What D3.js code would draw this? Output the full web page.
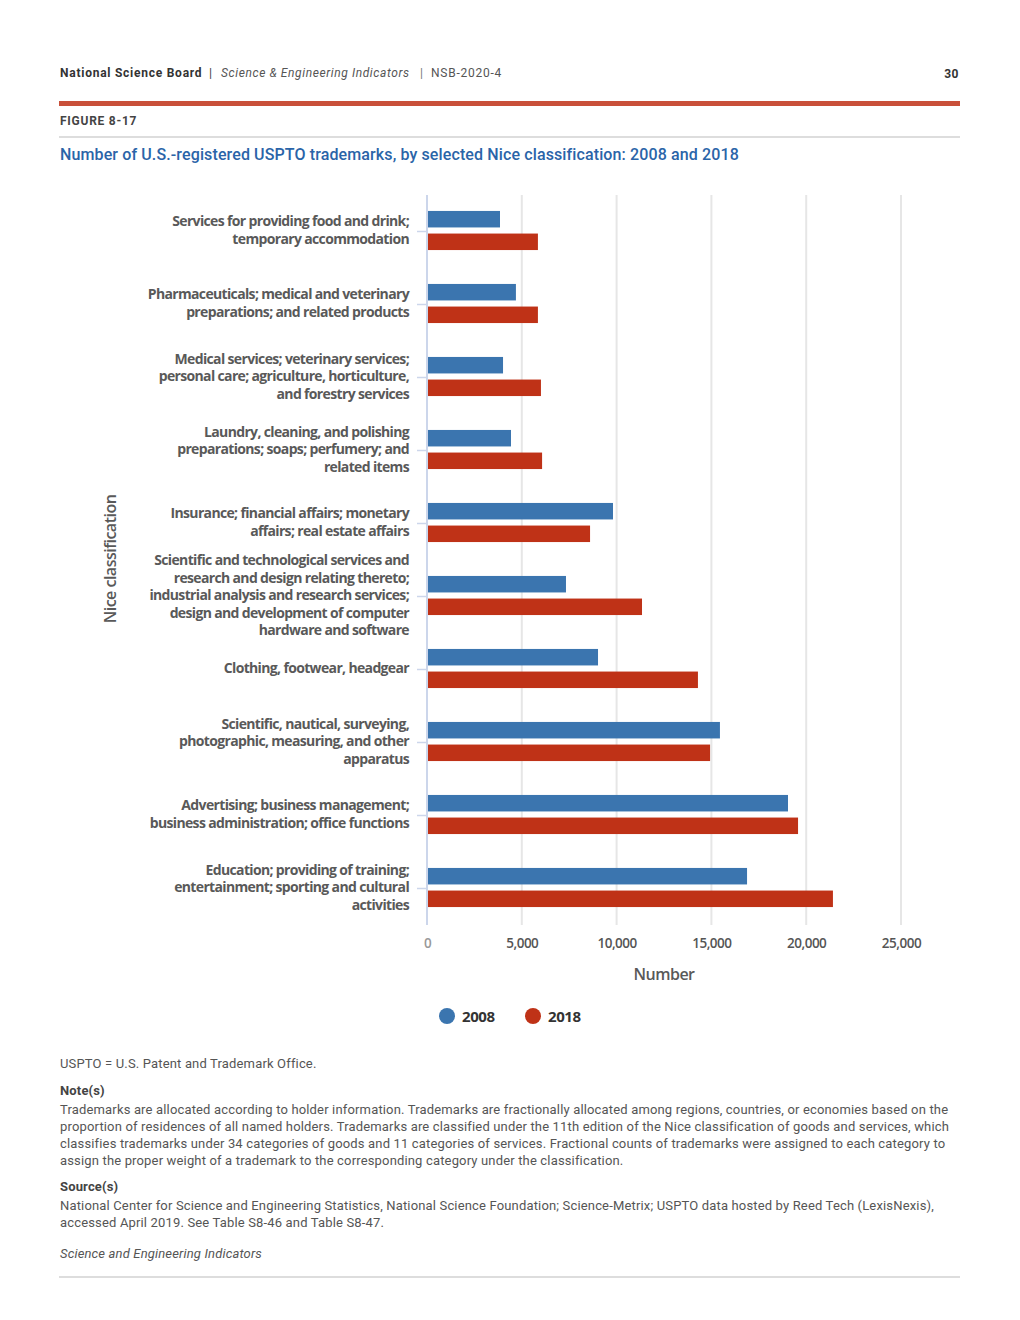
<!DOCTYPE html>
<html>
<head>
<meta charset="utf-8">
<script src="https://cdn.jsdelivr.net/npm/d3@7"></script>
<style>
  body { margin: 0; background: #fff; }
  svg { display: block; }
  .hdr { font-family: Roboto, sans-serif; }
</style>
</head>
<body>
<div id="graph"></div>
<script>
// Categories (top to bottom) and values
var categories = [
  ["Services for providing food and drink;", "temporary accommodation"],
  ["Pharmaceuticals; medical and veterinary", "preparations; and related products"],
  ["Medical services; veterinary services;", "personal care; agriculture, horticulture,", "and forestry services"],
  ["Laundry, cleaning, and polishing", "preparations; soaps; perfumery; and", "related items"],
  ["Insurance; financial affairs; monetary", "affairs; real estate affairs"],
  ["Scientific and technological services and", "research and design relating thereto;", "industrial analysis and research services;", "design and development of computer", "hardware and software"],
  ["Clothing, footwear, headgear"],
  ["Scientific, nautical, surveying,", "photographic, measuring, and other", "apparatus"],
  ["Advertising; business management;", "business administration; office functions"],
  ["Education; providing of training;", "entertainment; sporting and cultural", "activities"]
];
var series = ["2008", "2018"];
var values2008 = [3850, 4690, 4010, 4430, 9810, 7330, 9020, 15450, 19040, 16880];
var values2018 = [5850, 5850, 6010, 6070, 8600, 11340, 14290, 14930, 19570, 21410];
var xTicks = [0, 5000, 10000, 15000, 20000, 25000];

var colors = {"2008": "#3b75af", "2018": "#bf3217"};

var noteLines = [
  "Trademarks are allocated according to holder information. Trademarks are fractionally allocated among regions, countries, or economies based on the",
  "proportion of residences of all named holders. Trademarks are classified under the 11th edition of the Nice classification of goods and services, which",
  "classifies trademarks under 34 categories of goods and 11 categories of services. Fractional counts of trademarks were assigned to each category to",
  "assign the proper weight of a trademark to the corresponding category under the classification."
];
var sourceLines = [
  "National Center for Science and Engineering Statistics, National Science Foundation; Science-Metrix; USPTO data hosted by Reed Tech (LexisNexis),",
  "accessed April 2019. See Table S8-46 and Table S8-47."
];

var largeur = 1020, hauteur = 1320;
var svg = d3.select("#graph").append("svg")
    .attr("width", largeur)
    .attr("height", hauteur);

// ---- En-tête de page
var h = svg.append("text").attr("class", "hdr").attr("x", 60).attr("y", 77)
    .style("font-size", "12px").style("fill", "#333").attr("letter-spacing", "0.75px");
h.append("tspan").style("font-weight", "bold").text("National Science Board");
h.append("tspan").attr("x", 209).style("font-weight", "bold").style("fill", "#555").text("|");
h.append("tspan").attr("x", 221).style("font-style", "italic").style("fill", "#555")
    .attr("letter-spacing", "0.6px").text("Science & Engineering Indicators");
h.append("tspan").attr("x", 420).style("fill", "#777").text("|");
h.append("tspan").attr("x", 431).style("fill", "#555").text("NSB-2020-4");

svg.append("text").attr("class", "hdr").attr("x", 959).attr("y", 78)
    .attr("text-anchor", "end").style("font-size", "12px").style("font-weight", "bold")
    .attr("letter-spacing", "0.5px")
    .style("fill", "#333").text("30");

svg.append("rect").attr("x", 59).attr("y", 101).attr("width", 901).attr("height", 5).attr("fill", "#c9503a");

svg.append("text").attr("class", "hdr").attr("x", 60).attr("y", 125)
    .style("font-size", "12px").style("font-weight", "bold").style("fill", "#444")
    .attr("letter-spacing", "0.75px").text("FIGURE 8-17");

svg.append("rect").attr("x", 59).attr("y", 136).attr("width", 901).attr("height", 2).attr("fill", "#ddd");

svg.append("text").attr("class", "hdr").attr("x", 60).attr("y", 160)
    .style("font-size", "16px").style("font-weight", 500).style("fill", "#2a64a8")
    .attr("letter-spacing", "0.12px")
    .text("Number of U.S.-registered USPTO trademarks, by selected Nice classification: 2008 and 2018");

// ---- Graphique
var haut = 195, bas = 925, gauche = 427, droite = 901;

var echelleY = d3.scaleBand()
    .domain(d3.range(categories.length))
    .range([haut, bas]);

var echelleSerie = d3.scaleBand()
    .domain(series)
    .range([-1, echelleY.bandwidth() - 1])
    .paddingInner(0.27)
    .paddingOuter(0.75);

var echelleX = d3.scaleLinear()
    .domain([0, 25000])
    .range([gauche, droite]);

var g = svg.append("g");

// lignes de grille
g.selectAll(".grid")
  .data(xTicks.slice(1))
  .enter().append("line")
  .attr("x1", function(d) { return echelleX(d); })
  .attr("x2", function(d) { return echelleX(d); })
  .attr("y1", haut).attr("y2", bas)
  .attr("stroke", "#e6e6e6").attr("stroke-width", 2);

// axe X
var axeX = d3.axisBottom(echelleX)
    .tickValues(xTicks)
    .tickFormat(d3.format(","))
    .tickSize(0)
    .tickPadding(0);

var gx = g.append("g")
    .attr("transform", "translate(0," + (bas + 13) + ")")
    .call(axeX);
gx.select(".domain").remove();
gx.selectAll("text")
    .style("font-family", "'Open Sans', sans-serif")
    .style("font-size", "13.5px")
    .style("font-weight", 600)
    .style("fill", function(d) { return d === 0 ? "#999" : "#555"; })
    .attr("letter-spacing", "-0.5px");

// axe Y
var axeY = d3.axisLeft(echelleY).tickSize(10).tickFormat("");
var gy = g.append("g")
    .attr("transform", "translate(" + gauche + ",0)")
    .call(axeY);
gy.select(".domain").attr("stroke", "#ccd6eb").attr("stroke-width", 2)
    .attr("d", "M0," + haut + "V" + bas);
gy.selectAll(".tick line").attr("stroke", "#ccd6eb").attr("stroke-width", 1.5)
    .attr("transform", "translate(0," + (echelleY.bandwidth() / 2) + ")")
    .attr("y1", 0).attr("y2", 0);
gy.selectAll(".tick").attr("transform", function(d) { return "translate(0," + echelleY(d) + ")"; });

// libellés des catégories
var lh = 17.5;
g.selectAll(".cat")
  .data(categories)
  .enter().append("text")
  .attr("class", "cat")
  .attr("text-anchor", "end")
  .style("font-family", "'Open Sans', sans-serif")
  .style("font-size", "14px")
  .style("font-weight", 700)
  .style("fill", "#595959")
  .attr("letter-spacing", "-0.65px")
  .each(function(d, i) {
    var c = echelleY(i) + echelleY.bandwidth() / 2 - 1.5;
    var y0 = c - (d.length - 1) * lh / 2 + 5;
    var t = d3.select(this);
    d.forEach(function(line, k) {
      t.append("tspan").attr("x", 409).attr("y", y0 + k * lh).text(line);
    });
  });

// barres
var donnees = [];
categories.forEach(function(c, i) {
  donnees.push({cat: i, serie: "2008", val: values2008[i]});
  donnees.push({cat: i, serie: "2018", val: values2018[i]});
});

g.selectAll(".bar")
  .data(donnees)
  .enter().append("rect")
  .attr("class", "bar")
  .attr("x", echelleX(0) + 1)
  .attr("y", function(d) { return echelleY(d.cat) + echelleSerie(d.serie); })
  .attr("height", echelleSerie.bandwidth())
  .attr("width", function(d) { return echelleX(d.val) - echelleX(0) - 1; })
  .attr("fill", function(d) { return colors[d.serie]; });

// titres des axes
svg.append("text")
    .attr("transform", "translate(116," + ((haut + bas) / 2 - 1) + ") rotate(-90)")
    .attr("text-anchor", "middle")
    .style("font-family", "'Open Sans', sans-serif")
    .style("font-size", "16px").style("font-weight", 600).style("fill", "#595959")
    .attr("letter-spacing", "-0.5px")
    .text("Nice classification");

svg.append("text")
    .attr("x", 664).attr("y", 980)
    .attr("text-anchor", "middle")
    .style("font-family", "'Open Sans', sans-serif")
    .style("font-size", "16px").style("font-weight", 600).style("fill", "#595959")
    .attr("letter-spacing", "-0.5px")
    .text("Number");

// légende
var leg = svg.append("g").selectAll("g")
  .data(series)
  .enter().append("g")
  .attr("transform", function(d, i) { return "translate(" + (447 + i * 86) + ",1016)"; });
leg.append("circle").attr("r", 8).attr("fill", function(d) { return colors[d]; });
leg.append("text").attr("x", 15).attr("y", 6)
    .style("font-family", "'Open Sans', sans-serif")
    .style("font-size", "15px").style("font-weight", "bold").style("fill", "#333")
    .attr("letter-spacing", "-0.4px")
    .text(function(d) { return d; });

// ---- Pied de page
function ligne(y, txt, opts) {
  var t = svg.append("text").attr("class", "hdr").attr("x", 60).attr("y", y)
    .style("font-size", "13px").style("fill", "#555").attr("letter-spacing", "0.16px").text(txt);
  if (opts && opts.bold) t.style("font-weight", "bold").style("fill", "#444");
  if (opts && opts.italic) t.style("font-style", "italic");
  return t;
}
ligne(1068, "USPTO = U.S. Patent and Trademark Office.");
ligne(1095, "Note(s)", {bold: true});
noteLines.forEach(function(l, i) { ligne(1114 + i * 17, l); });
ligne(1191, "Source(s)", {bold: true});
sourceLines.forEach(function(l, i) { ligne(1210 + i * 17, l); });
ligne(1258, "Science and Engineering Indicators", {italic: true});
svg.append("rect").attr("x", 59).attr("y", 1276).attr("width", 901).attr("height", 2).attr("fill", "#ddd");
</script>
</body>
</html>
